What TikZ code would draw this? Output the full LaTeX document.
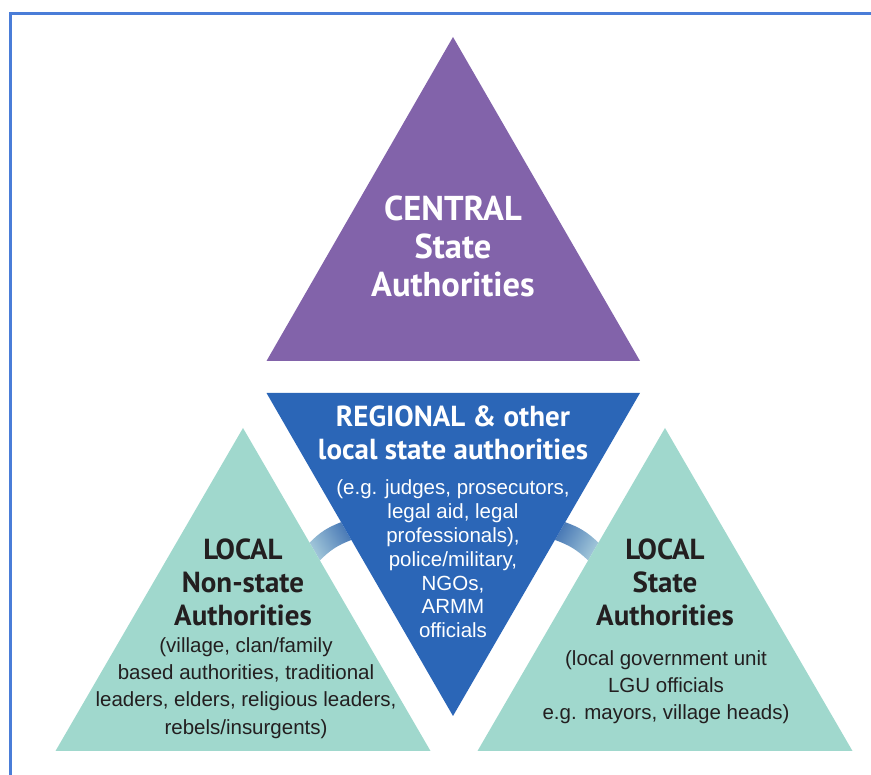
\documentclass[tikz,border=0pt]{standalone}
\usepackage{fontspec}
\setmainfont{Liberation Sans}
\newfontfamily\headfont{PT Sans}
\usetikzlibrary{positioning,calc}
\definecolor{centralPurple}{HTML}{8263AA}
\definecolor{regionalBlue}{HTML}{2B66B7}
\definecolor{localTeal}{HTML}{A0D8CD}
\definecolor{frameBlue}{HTML}{4A7DD8}
\definecolor{bandDark}{HTML}{4878B5}
\definecolor{bandLight}{HTML}{A3C8DA}
\definecolor{inkDark}{HTML}{231F20}

\begin{document}
\begin{tikzpicture}[x=1pt,y=1pt]
	%defines
	\tikzstyle{bigHead} = [inner sep=0pt, align=center, font=\headfont\bfseries\fontsize{34.5}{38}\selectfont, text=white]
	\tikzstyle{midHead} = [inner sep=0pt, align=center, font=\headfont\bfseries\fontsize{29}{33}\selectfont, text=inkDark]
	\tikzstyle{smallText} = [inner sep=0pt, align=center, font=\fontsize{20.5}{27.2}\selectfont, text=inkDark]
	\tikzstyle{blueText} = [inner sep=0pt, align=center, font=\fontsize{20.5}{23.8}\selectfont, text=white]
	\tikzstyle{frameLine} = [draw=frameBlue, line width=3pt]
	\tikzstyle{leftBand} = [top color=bandDark, bottom color=bandLight, shading angle=-60]
	\tikzstyle{rightBand} = [top color=bandDark, bottom color=bandLight, shading angle=60]
	\useasboundingbox (0,0) rectangle (871,775);
	%frame
	\draw [frameLine] (10,-10) -- (10,761) -- (885,761);
	%corners
	\coordinate (centralTop) at (453,738);
	\coordinate (centralLeft) at (266.5,414);
	\coordinate (centralRight) at (640,414);
	\coordinate (regionalLeft) at (266.5,382);
	\coordinate (regionalRight) at (640,382);
	\coordinate (regionalBottom) at (453,59);
	\coordinate (leftTop) at (243,347);
	\coordinate (leftLeft) at (55.5,24);
	\coordinate (leftRight) at (430.5,24);
	\coordinate (rightTop) at (665,347);
	\coordinate (rightLeft) at (477.5,24);
	\coordinate (rightRight) at (852.5,24);
	%bands
	\coordinate (leftBandA) at ($(leftTop)!0.355!(leftRight)$);
	\coordinate (leftBandB) at ($(leftTop)!0.41!(leftRight)$);
	\coordinate (leftBandC) at ($(regionalLeft)!0.40!(regionalBottom)$);
	\coordinate (leftBandD) at ($(regionalLeft)!0.455!(regionalBottom)$);
	\coordinate (rightBandA) at ($(rightTop)!0.355!(rightLeft)$);
	\coordinate (rightBandB) at ($(rightTop)!0.41!(rightLeft)$);
	\coordinate (rightBandC) at ($(regionalRight)!0.40!(regionalBottom)$);
	\coordinate (rightBandD) at ($(regionalRight)!0.455!(regionalBottom)$);
	\shade [leftBand] (leftBandA) to[bend left=12] (leftBandC) -- (leftBandD) to[bend right=12] (leftBandB) -- cycle;
	\shade [rightBand] (rightBandA) to[bend right=12] (rightBandC) -- (rightBandD) to[bend left=12] (rightBandB) -- cycle;
	%triangles
	\fill [centralPurple] (centralTop) -- (centralLeft) -- (centralRight) -- cycle;
	\fill [regionalBlue] (regionalLeft) -- (regionalRight) -- (regionalBottom) -- cycle;
	\fill [localTeal] (leftTop) -- (leftLeft) -- (leftRight) -- cycle;
	\fill [localTeal] (rightTop) -- (rightLeft) -- (rightRight) -- cycle;
	%texts
	\node (centralHead) [bigHead] at (453,529) {CENTRAL\\State\\Authorities};
	\node (regionalHead) [midHead, text=white] at (453,342) {REGIONAL \& other\\local state authorities};
	\node (regionalText) [blueText] at (453,216) {(e.g. judges, prosecutors,\\legal aid, legal\\professionals),\\police/military,\\NGOs,\\ARMM\\officials};
	\node (leftHead) [midHead] at (243,193) {LOCAL\\Non-state\\Authorities};
	\node (leftText) [smallText] at (246,87) {(village, clan/family\\based authorities, traditional\\leaders, elders, religious leaders,\\rebels/insurgents)};
	\node (rightHead) [midHead] at (665,193) {LOCAL\\State\\Authorities};
	\node (rightText) [smallText] at (666,88) {(local government unit\\LGU officials\\e.g. mayors, village heads)};
\end{tikzpicture}
\end{document}
